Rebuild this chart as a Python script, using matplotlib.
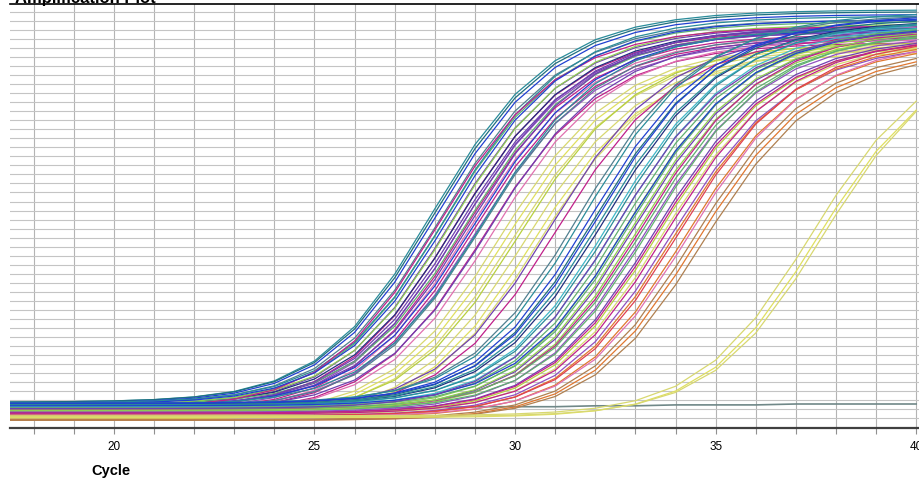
import numpy as np
import matplotlib
matplotlib.use('Agg')
import matplotlib.pyplot as plt

plt.rcParams['font.family'] = ['Liberation Sans', 'DejaVu Sans']

# cycles recorded by the instrument
cycles = np.arange(17, 41)

# per-well values: mid-rise cycle, plateau Rn,
# baseline Rn and trace colour
ct = [28.0, 28.05, 28.1, 28.2, 28.3, 28.35, 28.45, 28.5, 28.55, 28.6, 28.7, 28.75,
      28.8, 28.85, 28.9, 28.95, 29.0, 29.05, 29.1, 29.2, 29.3, 29.4, 29.5,
      28.15, 28.65, 29.25, 28.4,
      29.7, 29.85, 30.0, 30.15, 30.3, 30.5, 30.7, 30.95, 31.1,
      31.65, 31.8, 31.95, 32.05, 32.15, 32.3, 32.45, 32.55, 32.65, 32.75, 32.85,
      32.95, 33.05, 33.15, 33.25, 33.35, 33.45, 33.55, 33.65, 33.75, 33.85, 33.95,
      32.2, 32.9, 33.3, 33.6, 33.0, 32.6,
      34.05, 34.15, 34.3, 34.5, 34.6, 34.75, 34.4,
      37.45, 37.6, 37.75]
plateau = [4.62, 4.60, 4.57, 4.51, 4.49, 4.55, 4.44, 4.46, 4.40, 4.42, 4.38, 4.42,
           4.35, 4.40, 4.33, 4.44, 4.31, 4.40, 4.29, 4.35, 4.26, 4.33, 4.29,
           4.44, 4.38, 4.42, 4.51,
           4.24, 4.22, 4.20, 4.26, 4.18, 4.15, 4.20, 4.40, 4.35,
           4.57, 4.60, 4.55, 4.53, 4.57, 4.51, 4.49, 4.51, 4.46, 4.44, 4.42,
           4.46, 4.40, 4.38, 4.42, 4.35, 4.40, 4.33, 4.31, 4.29, 4.33, 4.26,
           4.49, 4.44, 4.38, 4.31, 4.40, 4.42,
           4.29, 4.33, 4.26, 4.22, 4.19, 4.17, 4.29,
           4.29, 4.24, 4.29]
baseline = [0.28, 0.28, 0.27, 0.26, 0.24, 0.27, 0.23, 0.25, 0.20, 0.24, 0.19, 0.22,
            0.18, 0.25, 0.17, 0.23, 0.16, 0.24, 0.19, 0.20, 0.15, 0.19, 0.16,
            0.21, 0.22, 0.24, 0.26,
            0.13, 0.12, 0.11, 0.13, 0.09, 0.09, 0.11, 0.19, 0.17,
            0.26, 0.27, 0.26, 0.25, 0.27, 0.25, 0.24, 0.25, 0.23, 0.22, 0.20,
            0.22, 0.19, 0.18, 0.20, 0.17, 0.19, 0.16, 0.15, 0.14, 0.15, 0.13,
            0.25, 0.24, 0.21, 0.16, 0.19, 0.21,
            0.12, 0.13, 0.11, 0.09, 0.08, 0.08, 0.12,
            0.13, 0.11, 0.12]
colors = ['#2A8C9A', '#1F6F80', '#2040D0', '#508090', '#60B070', '#2A8C9A', '#7040B0', '#90D050',
          '#C0208A', '#203080', '#9050C0', '#7040B0', '#C0208A', '#60B070', '#E070B0', '#7040B0',
          '#C0208A', '#2040D0', '#9050C0', '#508090', '#C0208A', '#7040B0', '#E070B0',
          '#C0208A', '#7040B0', '#2A8C9A', '#2040D0',
          '#D8D870', '#E0E060', '#D8D870', '#B8D040', '#D8D870', '#E0E060', '#D8D870',
          '#7040B0', '#C0208A',
          '#508090', '#2A8C9A', '#2040D0', '#1F6F80', '#2040D0', '#203080', '#40B8C8', '#2A8C9A',
          '#40B8C8', '#60B070', '#90D050', '#60B070', '#7040B0', '#90D050', '#C0208A', '#9050C0',
          '#60B070', '#7040B0', '#B8D040', '#D8D870', '#C0208A', '#9050C0',
          '#2A8C9A', '#2040D0', '#60B070', '#C0208A', '#90D050', '#7040B0',
          '#E07830', '#E04050', '#E07830', '#B08050', '#E07830', '#B08050', '#E070B0',
          '#D8D870', '#E0E060', '#D8D870']

# rise shape: logit slope before / after the knee
rise_width = 1.4
tail_width = 1.74
knee = 1.5

# no-template control, flat trace
ntc = [0.22, 0.22, 0.22, 0.22, 0.22, 0.22, 0.22, 0.22, 0.22, 0.22, 0.22, 0.22,
       0.23, 0.23, 0.23, 0.24, 0.24, 0.25, 0.25, 0.25, 0.26, 0.26, 0.26, 0.26]

fig = plt.figure(figsize=(9.19, 4.80), dpi=100)
ax = fig.add_axes([10/919, (480-427.5)/480, 909/919, 423.5/480])

for c, top, base, col in zip(ct, plateau, baseline, colors):
    d = cycles - c
    lg = d / rise_width - (1/rise_width - 1/tail_width) * np.logaddexp(0, d - knee)
    rn = base + (top - base) / (1 + np.exp(-lg))
    ax.plot(cycles, rn, color=col, lw=0.9, zorder=3)
ax.plot(cycles, ntc, color='#708888', lw=1.2, zorder=2)

ax.set_xlim(17.41, 40.07)
ax.set_ylim(0, 4.685)
ax.set_xticks([20, 25, 30, 35, 40])
ax.set_xticks(np.arange(18, 41), minor=True)
ax.set_yticks(np.arange(0.1, 4.7, 0.1))
ax.tick_params(axis='y', length=0, labelleft=False)
ax.tick_params(axis='x', which='both', length=4, width=0.8, color='#909090',
               labelsize=8.5, pad=6)
ax.grid(True, which='both', axis='x', color='#B4B4B4', lw=0.8, zorder=0)
ax.grid(True, axis='y', color='#C4C4C4', lw=0.8, zorder=0)
ax.set_axisbelow(True)

ax.spines['left'].set_visible(False)
ax.spines['right'].set_visible(False)
ax.spines['top'].set_color('black')
ax.spines['top'].set_linewidth(1.2)
ax.spines['bottom'].set_color('#404040')
ax.spines['bottom'].set_linewidth(1.6)

fig.text(15/919, 1 - 2.5/480, 'Amplification Plot', weight='bold', fontsize=12,
         ha='left', va='baseline')
fig.text(111/919, 1 - 471/480, 'Cycle', weight='bold', fontsize=10.5,
         ha='center', va='center')

plt.savefig('out.png', dpi=100)
